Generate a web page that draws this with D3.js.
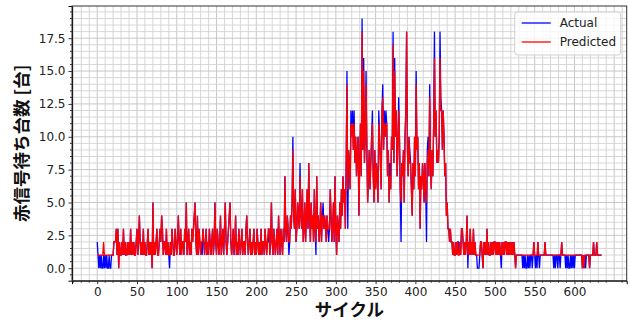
<!DOCTYPE html>
<html>
<head>
<meta charset="utf-8">
<script src="https://cdn.jsdelivr.net/npm/d3@7"></script>
<style>
  body { margin: 0; background: #fff; }
  svg { display: block; }
</style>
</head>
<body>
<div id="chart"></div>
<script>
// 実測値（サイクルごと）
const actual = [
  2,1,0,1,0,1,0,0,1,0,1,0,1,0,0,1,0,0,1,1,
  1,2,2,2,3,1,3,0,2,1,1,2,1,3,1,2,1,1,2,1,
  2,1,3,1,2,1,2,1,1,2,3,1,2,4,2,1,2,1,3,1,
  2,1,1,2,3,1,2,1,2,0,5,1,2,1,2,3,1,1,2,3,
  2,4,3,1,2,2,1,3,1,2,1,0,2,1,3,2,1,1,3,2,
  1,2,4,2,1,3,1,2,2,1,3,2,5,1,2,3,1,2,1,3,
  2,3,4,5,2,1,4,1,3,2,1,2,1,3,2,1,2,3,1,2,
  1,3,2,1,2,3,1,2,5,2,1,3,2,1,2,4,1,2,3,1,
  3,5,2,1,2,3,4,5,2,1,2,3,1,2,4,1,2,1,3,2,
  1,2,3,1,2,2,1,3,4,2,1,2,3,1,2,1,2,3,1,2,
  1,3,2,1,2,1,3,1,2,2,1,3,2,1,2,2,3,1,2,5,
  2,1,3,2,1,2,3,1,4,2,1,3,2,1,3,2,7,3,2,4,
  3,1,2,4,3,5,10,4,3,6,2,3,5,4,3,8,4,3,6,2,
  3,5,2,4,6,3,8,4,2,5,3,4,2,6,3,1,7,3,4,2,
  3,5,2,4,5,3,4,3,2,4,3,2,3,6,4,2,3,5,2,7,
  3,1,4,3,2,5,3,6,4,7,5,6,3,8,15,3,9,8,6,12,
  10,12,9,12,8,10,7,9,10,4,8,11,7,19,9,16,8,10,15,9,
  5,7,9,6,8,10,12,7,5,9,6,8,7,5,12,10,8,6,12,14,
  9,12,10,12,11,7,9,5,8,6,10,9,18,8,16,10,12,7,9,13,
  10,6,2,8,7,9,5,10,12,18,9,7,10,9,8,6,4,8,6,10,
  7,15,9,10,6,8,3,7,6,8,7,5,8,6,2,9,10,7,14,8,
  6,9,7,11,18,10,12,8,9,8,10,18,13,12,9,12,10,7,8,4,
  5,3,3,2,3,2,2,1,2,1,1,2,1,2,2,1,2,1,3,3,
  2,1,2,1,2,4,0,2,1,3,1,2,1,3,1,2,1,1,0,0,
  0,1,2,2,1,0,2,1,2,1,3,1,2,1,1,2,1,2,1,2,
  2,1,2,1,2,1,2,1,0,2,1,2,1,2,2,1,2,1,2,1,
  2,1,2,1,2,1,0,1,1,1,1,1,1,1,1,0,1,0,1,0,
  0,1,0,1,0,1,1,0,1,2,1,0,1,0,2,1,0,1,1,1,
  1,1,1,2,1,1,1,1,1,1,1,1,1,1,0,1,0,1,1,0,
  1,1,0,1,2,1,1,1,1,0,1,0,1,0,0,1,0,1,0,1,
  0,1,1,1,1,1,1,1,1,1,0,1,0,1,0,1,1,1,1,0,
  1,1,1,1,2,1,1,1,2,1,1,1,1,1,1
];

// 予測値
const predicted = [
  1,1,1,1,1,1,1,1,2,1,1,1,1,1,1,1,1,1,1,1,
  1,2,2,2,3,1,3,0,2,1,1,2,1,3,1,2,1,1,2,1,
  2,1,3,1,2,1,2,1,1,2,3,1,2,4,2,1,2,1,3,1,
  2,1,1,2,3,1,2,1,2,0,5,1,2,1,2,3,1,1,2,3,
  2,4,3,1,2,2,1,3,1,2,1,1,2,1,3,2,1,1,3,2,
  1,2,4,2,1,3,1,2,2,1,3,2,5,1,2,3,1,2,1,3,
  2,3,4,5,2,1,4,1,3,2,1,2,2,3,2,1,2,3,1,2,
  1,3,2,1,2,3,1,2,5,2,1,3,2,1,2,4,1,2,3,1,
  3,5,2,1,2,3,4,5,2,1,2,3,1,2,4,1,2,1,3,2,
  1,2,3,1,2,2,1,3,4,2,1,2,3,1,2,1,2,3,1,2,
  1,3,2,1,2,1,3,1,2,2,1,3,2,1,2,3,3,1,2,5,
  2,1,3,2,1,2,3,1,4,2,1,3,2,1,3,2,7,3,2,4,
  3,2,2,4,3,5,9,4,3,6,2,3,5,4,3,7,4,3,6,2,
  3,5,2,4,6,3,8,4,2,5,3,4,2,6,3,2,7,3,4,2,
  3,5,2,4,4,3,4,3,2,4,3,3,3,6,4,2,3,5,2,7,
  3,1,4,3,2,5,3,6,4,7,5,6,3,8,14,6,9,8,6,11,
  10,11,9,11,8,10,7,9,10,4,8,11,7,18,9,15,8,10,14,9,
  5,7,9,6,8,10,11,7,5,9,6,8,7,5,11,10,8,6,12,13,
  9,11,10,11,11,7,9,5,7,6,10,9,17,8,15,10,12,7,9,12,
  10,6,5,8,7,9,5,10,12,18,9,7,10,8,8,6,4,8,6,10,
  7,14,9,10,6,8,3,7,6,8,7,5,8,6,5,8,9,7,13,8,
  6,9,7,11,16,10,12,8,9,8,10,16,12,12,9,12,10,7,8,4,
  5,3,3,2,3,2,2,1,2,1,1,2,1,2,1,1,2,1,3,3,
  2,1,2,1,2,4,1,2,1,3,1,2,1,3,1,2,1,1,1,1,
  1,1,2,2,1,0,2,1,2,1,3,1,2,1,1,2,1,2,1,2,
  2,1,2,1,2,1,2,1,1,2,1,2,1,2,2,1,2,1,2,1,
  2,1,2,1,2,1,0,1,1,1,1,1,1,1,1,1,1,1,1,1,
  1,1,1,1,1,1,1,1,1,2,1,1,1,1,2,1,1,1,1,1,
  1,1,1,2,1,1,1,1,1,1,1,1,1,1,1,1,1,1,1,1,
  1,1,1,1,2,1,1,1,1,1,1,1,1,1,1,1,1,1,1,1,
  1,1,1,1,1,1,1,1,1,1,0,1,0,1,1,1,1,1,1,0,
  1,1,1,1,2,1,1,1,2,1,1,1,1,1,1
];

const xTicks = [0, 50, 100, 150, 200, 250, 300, 350, 400, 450, 500, 550, 600];
const yTicks = [0, 2.5, 5, 7.5, 10, 12.5, 15, 17.5];
const seriesNames = ["Actual", "Predicted"];
const seriesColors = ["#0000ff", "#ff0000"];
const xLabel = "サイクル";
const yLabel = "赤信号待ち台数 [台]";

const width = 631, height = 321;
const margin = { top: 6, right: 4.3, bottom: 40.3, left: 72 };
const innerWidth = width - margin.left - margin.right;
const innerHeight = height - margin.top - margin.bottom;

const svg = d3.select("#chart")
  .append("svg")
  .attr("width", width)
  .attr("height", height);

const g = svg.append("g")
  .attr("transform", `translate(${margin.left},${margin.top})`);

// matplotlib風の5%マージン
const n = actual.length - 1;
const yMax = d3.max(actual.concat(predicted));
const x = d3.scaleLinear()
  .domain([-0.05 * n, n * 1.05])
  .range([0, innerWidth]);
const y = d3.scaleLinear()
  .domain([-0.05 * yMax, yMax * 1.05])
  .range([innerHeight, 0]);

const xMinor = d3.range(-30, 670, 10).filter(v => v >= x.domain()[0] && v <= x.domain()[1]);
const yMinor = d3.range(-0.5, 20.01, 0.5).filter(v => v >= y.domain()[0] && v <= y.domain()[1]);

// グリッド（副目盛りと主目盛り）
const grid = g.append("g").attr("class", "grid");
grid.selectAll("line.v")
  .data(xMinor)
  .enter().append("line")
  .attr("x1", d => x(d)).attr("x2", d => x(d))
  .attr("y1", 0).attr("y2", innerHeight)
  .attr("stroke", d => d % 50 === 0 ? "#c2c2c2" : "#d2d2d2")
  .attr("stroke-width", 0.9);
grid.selectAll("line.h")
  .data(yMinor)
  .enter().append("line")
  .attr("x1", 0).attr("x2", innerWidth)
  .attr("y1", d => y(d)).attr("y2", d => y(d))
  .attr("stroke", d => Math.abs(d % 2.5) < 1e-6 ? "#c2c2c2" : "#d2d2d2")
  .attr("stroke-width", 0.9);

// 系列の描画（Actual → Predicted の順）
const line = d3.line()
  .x((d, i) => x(i))
  .y(d => y(d));

[actual, predicted].forEach((values, k) => {
  g.append("path")
    .datum(values)
    .attr("fill", "none")
    .attr("stroke", seriesColors[k])
    .attr("stroke-width", 1.3)
    .attr("d", line);
});

// 軸（主目盛り）
const tickFont = "DejaVu Sans, sans-serif";
const xAxis = g.append("g")
  .attr("transform", `translate(0,${innerHeight})`)
  .call(d3.axisBottom(x).tickValues(xTicks).tickSize(3.5).tickPadding(3).tickFormat(d3.format("d")));
const yAxis = g.append("g")
  .call(d3.axisLeft(y).tickValues(yTicks).tickSize(3.5).tickPadding(3).tickFormat(d3.format(".1f")));

[xAxis, yAxis].forEach(a => {
  a.selectAll("text")
    .attr("font-family", tickFont)
    .attr("font-size", "12px")
    .attr("fill", "#222");
});

// 副目盛り（線のみ）
const minor = g.append("g").attr("class", "minor-ticks");
minor.selectAll("line.mx")
  .data(xMinor.filter(v => v % 50 !== 0))
  .enter().append("line")
  .attr("x1", d => x(d)).attr("x2", d => x(d))
  .attr("y1", innerHeight).attr("y2", innerHeight + 2)
  .attr("stroke", "#333");
minor.selectAll("line.my")
  .data(yMinor.filter(v => Math.abs(v % 2.5) > 1e-6))
  .enter().append("line")
  .attr("x1", -2).attr("x2", 0)
  .attr("y1", d => y(d)).attr("y2", d => y(d))
  .attr("stroke", "#333");
g.selectAll(".tick line").attr("stroke", "#333");

// 枠線
g.append("rect")
  .attr("x", 0).attr("y", 0)
  .attr("width", innerWidth).attr("height", innerHeight)
  .attr("fill", "none")
  .attr("stroke", "#333")
  .attr("stroke-width", 1);

// 軸ラベル
svg.append("text")
  .attr("x", margin.left + innerWidth / 2)
  .attr("y", 316)
  .attr("text-anchor", "middle")
  .attr("font-family", "Noto Sans CJK JP, sans-serif")
  .attr("font-weight", "bold")
  .attr("font-size", "17.5px")
  .attr("fill", "#111")
  .text(xLabel);

svg.append("text")
  .attr("transform", `translate(28,${margin.top + innerHeight / 2}) rotate(-90)`)
  .attr("text-anchor", "middle")
  .attr("font-family", "Noto Sans CJK JP, sans-serif")
  .attr("font-weight", "bold")
  .attr("font-size", "17.5px")
  .attr("fill", "#111")
  .text(yLabel);

// 凡例
const legend = g.append("g")
  .attr("transform", `translate(${innerWidth - 112},6)`);
legend.append("rect")
  .attr("width", 106).attr("height", 43)
  .attr("rx", 3)
  .attr("fill", "#fff").attr("fill-opacity", 0.8)
  .attr("stroke", "#d0d0d0");
seriesNames.forEach((name, k) => {
  legend.append("line")
    .attr("x1", 7).attr("x2", 36)
    .attr("y1", 11 + k * 19).attr("y2", 11 + k * 19)
    .attr("stroke", seriesColors[k])
    .attr("stroke-width", 1.3);
  legend.append("text")
    .attr("x", 45).attr("y", 11 + k * 19)
    .attr("dy", "0.35em")
    .attr("font-family", tickFont)
    .attr("font-size", "12px")
    .attr("fill", "#222")
    .text(name);
});
</script>
</body>
</html>
